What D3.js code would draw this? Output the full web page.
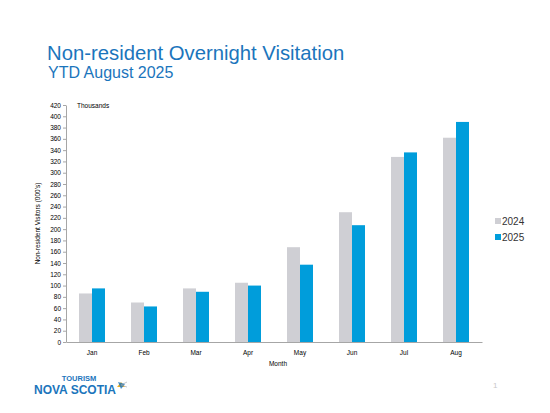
<!DOCTYPE html>
<html>
<head>
<meta charset="utf-8">
<script src="https://cdn.jsdelivr.net/npm/d3@7"></script>
<style>
  body { margin: 0; background: #fff; }
  svg { display: block; font-family: "Liberation Sans", Arial, sans-serif; }
</style>
</head>
<body>
<div id="chart"></div>
<script>
// Data (thousands of visitors)
const months = ["Jan", "Feb", "Mar", "Apr", "May", "Jun", "Jul", "Aug"];
const years = ["2024", "2025"];
const values2024 = [86, 70, 95, 105, 168, 230, 328, 362];
const values2025 = [95, 63, 89, 100, 137, 207, 336, 390];
const yTicks = d3.range(0, 421, 20);

const width = 550, height = 413;
const marginTop = 105, marginLeft = 66, plotRight = 482, plotBottom = 342;

const colors = { "2024": "#cfcfd4", "2025": "#009ddb" };
const series = { "2024": values2024, "2025": values2025 };

const data = months.map((m, i) => ({
  month: m,
  vals: years.map(yr => ({ year: yr, value: series[yr][i] }))
}));

const svg = d3.select("#chart").append("svg")
  .attr("width", width)
  .attr("height", height)
  .attr("viewBox", [0, 0, width, height]);

// Title
svg.append("text")
  .attr("x", 47).attr("y", 60)
  .attr("fill", "#1b75bc")
  .attr("font-size", 20.3)
  .text("Non-resident Overnight Visitation");
svg.append("text")
  .attr("x", 48).attr("y", 78)
  .attr("fill", "#1b75bc")
  .attr("font-size", 16)
  .text("YTD August 2025");

// Scales
const x = d3.scaleBand()
  .domain(months)
  .range([marginLeft, plotRight])
  .paddingInner(0.5)
  .paddingOuter(0.25);

const xInner = d3.scaleBand()
  .domain(years)
  .range([0, x.bandwidth()]);

const y = d3.scaleLinear()
  .domain([0, 420])
  .range([plotBottom, marginTop]);

// Bars
svg.append("g")
  .selectAll("g")
  .data(data)
  .join("g")
  .attr("transform", d => `translate(${x(d.month)},0)`)
  .selectAll("rect")
  .data(d => d.vals)
  .join("rect")
  .attr("x", d => xInner(d.year))
  .attr("y", d => y(d.value))
  .attr("width", xInner.bandwidth())
  .attr("height", d => y(0) - y(d.value))
  .attr("fill", d => colors[d.year]);

// Y axis
const yAxis = svg.append("g")
  .attr("transform", `translate(${marginLeft},0)`)
  .call(d3.axisLeft(y).tickValues(yTicks).tickSize(3).tickSizeOuter(0));
yAxis.select(".domain").attr("stroke", "#a6a6a6");
yAxis.selectAll(".tick line").attr("stroke", "#a6a6a6");
yAxis.selectAll(".tick text")
  .attr("font-size", 6.5)
  .attr("font-family", "Liberation Sans, Arial, sans-serif")
  .attr("fill", "#000")
  .attr("x", -5);

// X axis
const xAxis = svg.append("g")
  .attr("transform", `translate(0,${plotBottom})`)
  .call(d3.axisBottom(x).tickSize(0).tickPadding(8));
xAxis.select(".domain").attr("stroke", "#a6a6a6").attr("stroke-width", 1);
xAxis.selectAll(".tick text")
  .attr("font-size", 6.5)
  .attr("font-family", "Liberation Sans, Arial, sans-serif")
  .attr("fill", "#000");

// Axis titles
svg.append("text")
  .attr("x", 77).attr("y", 108)
  .attr("font-size", 6.5)
  .text("Thousands");

svg.append("text")
  .attr("transform", `translate(40,${(marginTop + plotBottom) / 2}) rotate(-90)`)
  .attr("text-anchor", "middle")
  .attr("font-size", 6.5)
  .text("Non-resident Visitors (000's)");

svg.append("text")
  .attr("x", (marginLeft + plotRight) / 2 + 4).attr("y", 366)
  .attr("text-anchor", "middle")
  .attr("font-size", 6.5)
  .text("Month");

// Legend
const legend = svg.append("g")
  .selectAll("g")
  .data(years)
  .join("g")
  .attr("transform", (d, i) => `translate(495,${222 + i * 16})`);
legend.append("rect")
  .attr("x", 0).attr("y", -4)
  .attr("width", 6).attr("height", 6)
  .attr("fill", d => colors[d]);
legend.append("text")
  .attr("x", 7).attr("y", 3)
  .attr("font-size", 10)
  .attr("fill", "#333")
  .text(d => d);

// Logo
svg.append("text")
  .attr("x", 79).attr("y", 381)
  .attr("text-anchor", "middle")
  .attr("fill", "#1b75bc")
  .attr("font-size", 7.5)
  .attr("font-weight", "bold")
  .text("TOURISM");
svg.append("text")
  .attr("x", 34).attr("y", 394)
  .attr("fill", "#1b75bc")
  .attr("font-size", 12.5)
  .attr("font-weight", "bold")
  .attr("textLength", 82)
  .attr("lengthAdjust", "spacingAndGlyphs")
  .text("NOVA SCOTIA");
const star = svg.append("g").attr("transform", "translate(121,385)");
star.append("path").attr("d", "M-4,2 L0,-3 L4,2 Z").attr("fill", "#f2b01e");
star.append("path").attr("d", "M-3,-3 L4,-1 L0,4 Z").attr("fill", "#1b75bc").attr("opacity", 0.8);
star.append("path").attr("d", "M0,0 L6,-3 M0,0 L6,2").attr("stroke", "#9aa3ad").attr("stroke-width", 0.6);

// Page number
svg.append("text")
  .attr("x", 493).attr("y", 388)
  .attr("fill", "#c8c8c8")
  .attr("font-size", 8)
  .text("1");
</script>
</body>
</html>
